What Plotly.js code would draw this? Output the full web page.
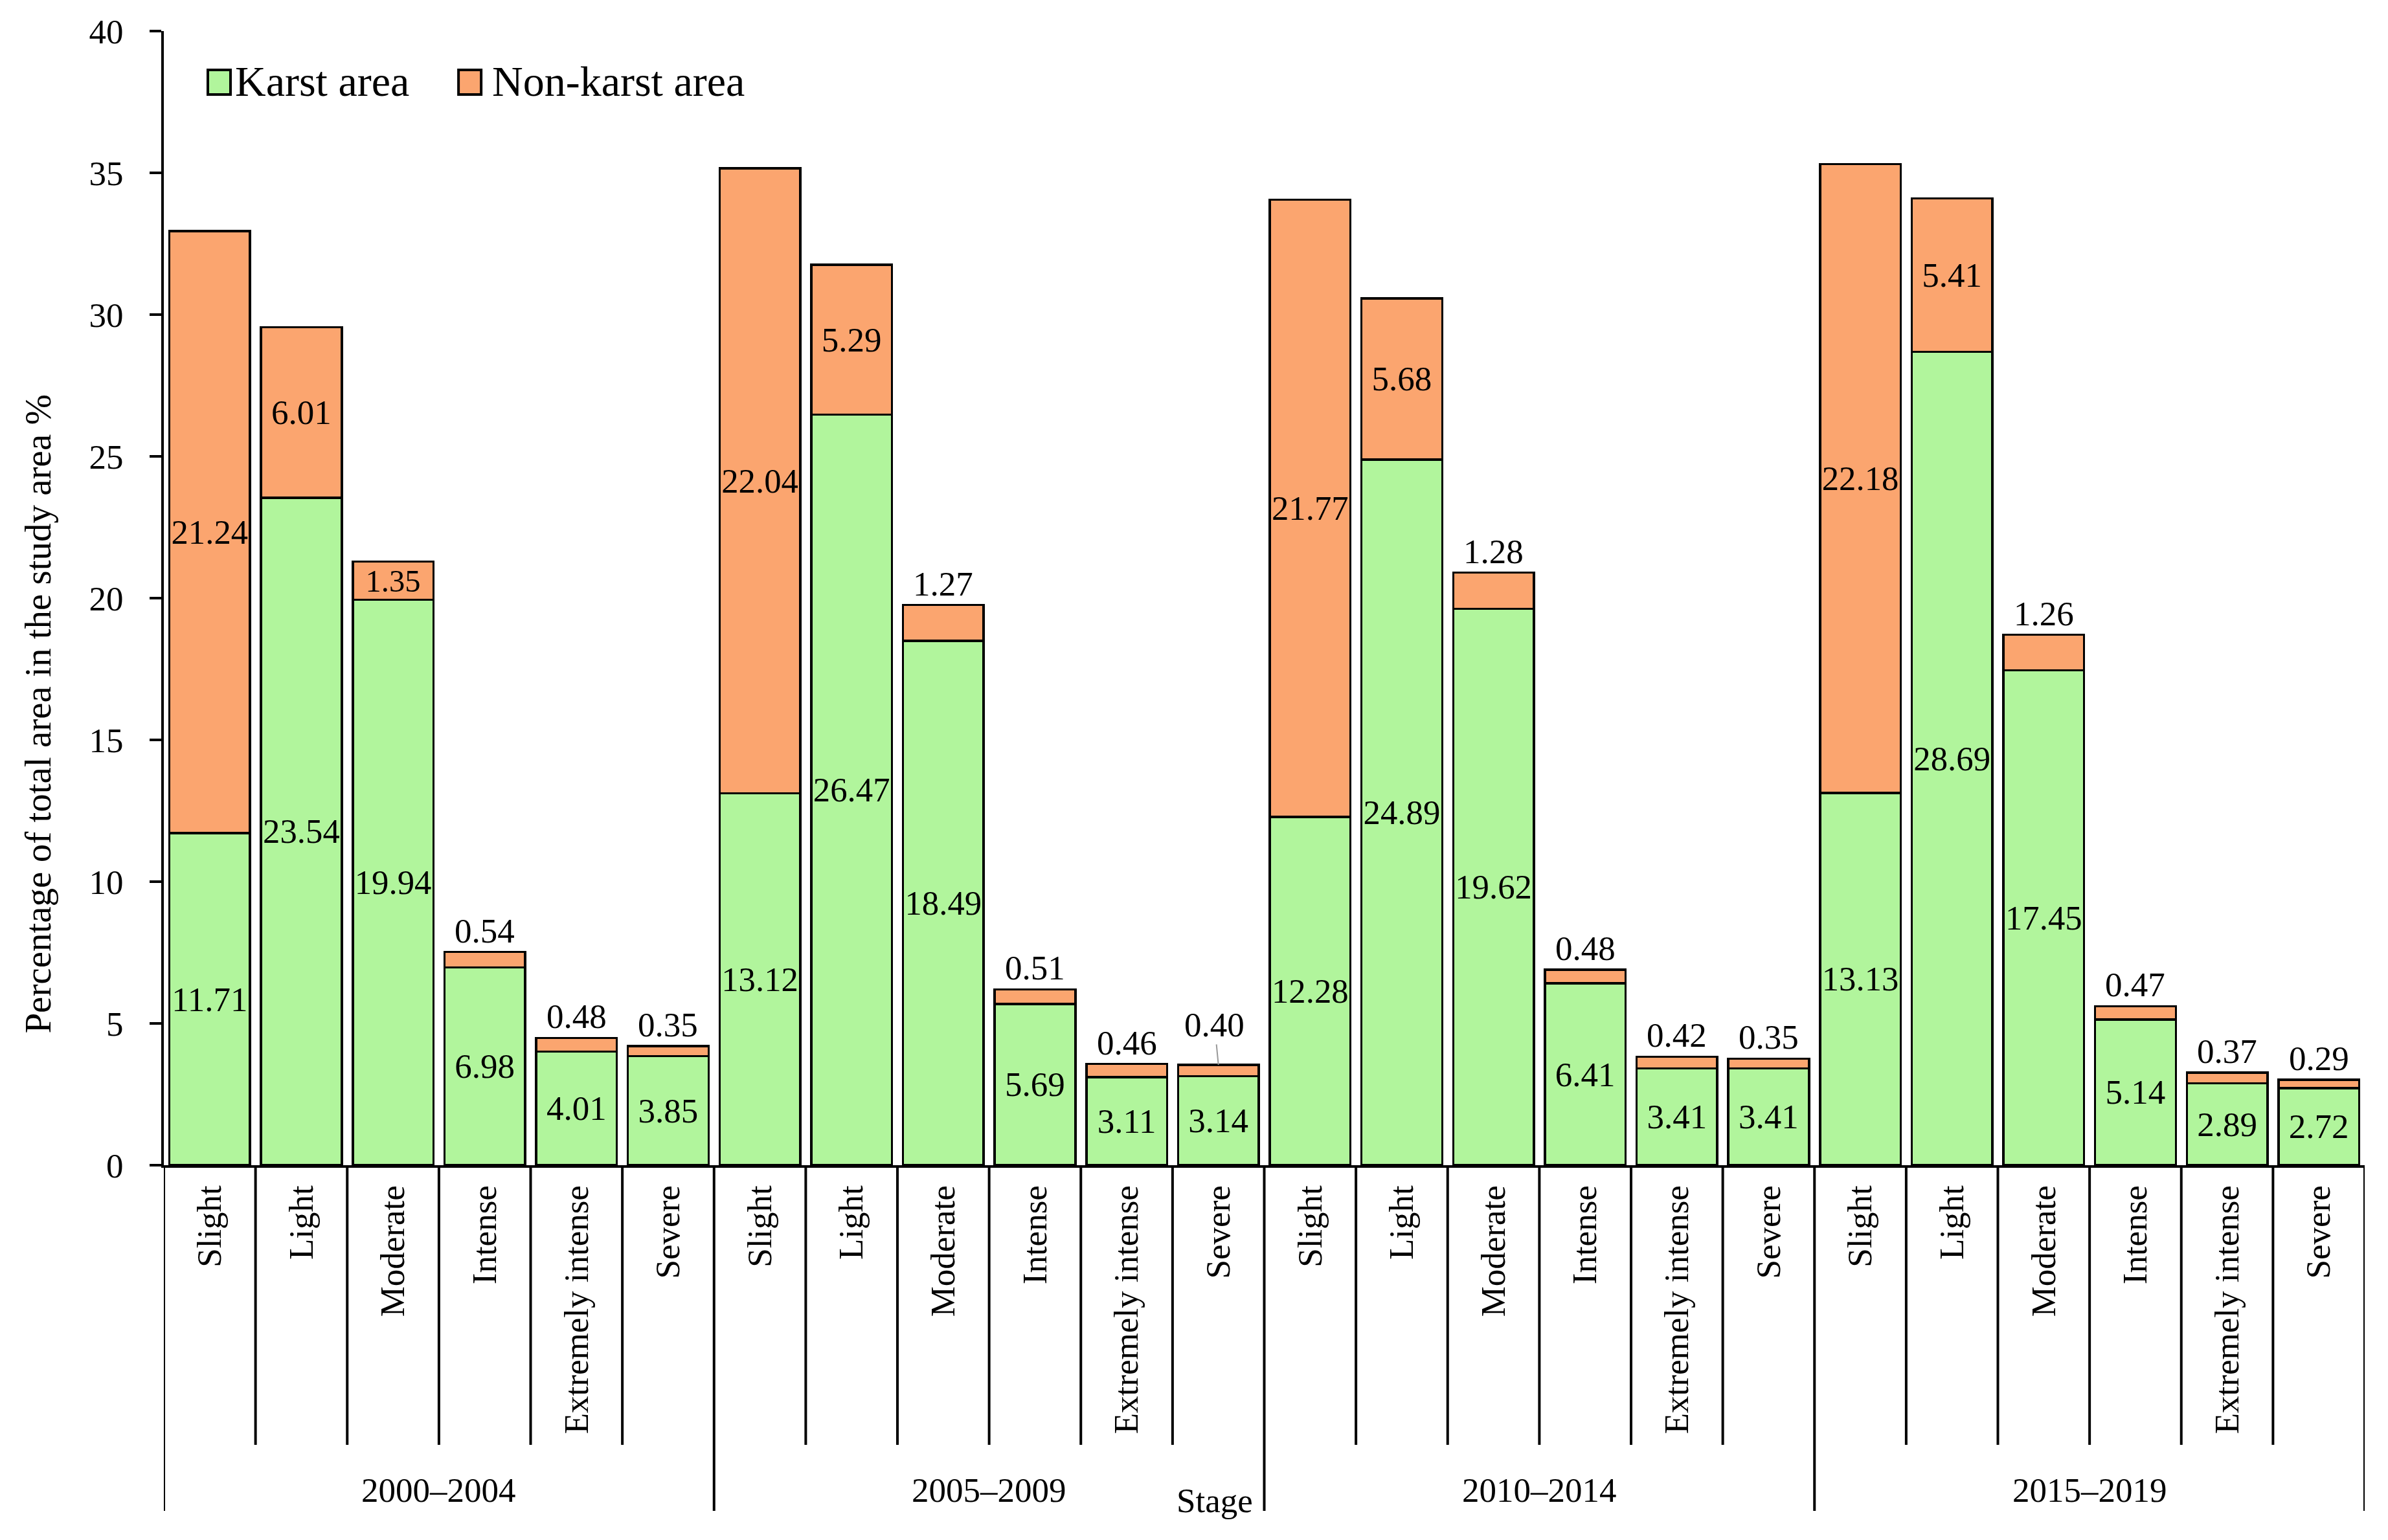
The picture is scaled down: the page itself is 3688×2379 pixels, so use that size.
<!DOCTYPE html>
<html>
<head>
<meta charset="utf-8">
<script src="https://cdn.plot.ly/plotly-3.0.1.min.js"></script>
<style>
  html, body { margin: 0; padding: 0; background: #fff; }
  #graph { width: 3688px; height: 2379px; }
</style>
</head>
<body>
<div id="graph"></div>
<script>
/* ----------------Data---------------- */

var stages = ['2000–2004', '2005–2009', '2010–2014', '2015–2019'];
var grades = ['Slight', 'Light', 'Moderate', 'Intense', 'Extremely intense', 'Severe'];
var seriesNames = ['Karst area', 'Non-karst area'];

// karst area share per stage, one value per grade
var karst2000 = [11.71, 23.54, 19.94, 6.98, 4.01, 3.85];
var karst2005 = [13.12, 26.47, 18.49, 5.69, 3.11, 3.14];
var karst2010 = [12.28, 24.89, 19.62, 6.41, 3.41, 3.41];
var karst2015 = [13.13, 28.69, 17.45, 5.14, 2.89, 2.72];

// non-karst area share per stage
var nonKarst2000 = [21.24, 6.01, 1.35, 0.54, 0.48, 0.35];
var nonKarst2005 = [22.04, 5.29, 1.27, 0.51, 0.46, 0.40];
var nonKarst2010 = [21.77, 5.68, 1.28, 0.48, 0.42, 0.35];
var nonKarst2015 = [22.18, 5.41, 1.26, 0.47, 0.37, 0.29];

var yTicks = [0, 5, 10, 15, 20, 25, 30, 35, 40];

/* ----------------Build traces---------------- */

var karst = [].concat(karst2000, karst2005, karst2010, karst2015);
var nonKarst = [].concat(nonKarst2000, nonKarst2005, nonKarst2010, nonKarst2015);

var FONT = 'Liberation Serif, Times New Roman, serif';
var FS = 53;
var COLORS = ['#b1f59c', '#fba56f'];
var insideMin = 1.3;          // smaller non-karst segments get their label above the bar
var leaderLabels = [[1, 5]];  // [stage, grade] labels lifted with a thin leader line

var xPos = [], tickText = [];
stages.forEach(function(s, si) {
    grades.forEach(function(g, gi) {
        xPos.push(si*grades.length + gi);
        tickText.push(g);
    });
});

function barTrace(name, values, color, labelFilter) {
    return {
        type: 'bar',
        name: name,
        x: xPos,
        y: values,
        text: values.map(function(v) { return labelFilter(v) ? v.toFixed(2) : ''; }),
        textposition: 'inside',
        insidetextanchor: 'middle',
        textangle: 0,
        insidetextfont: {family: FONT, size: FS, color: '#000'},
        marker: {color: color, line: {color: '#000', width: 3.5}},
        showlegend: false,
        hoverinfo: 'skip'
    };
}

var karstTrace = barTrace(seriesNames[0], karst, COLORS[0], function() { return true; });
var nonKarstTrace = barTrace(seriesNames[1], nonKarst, COLORS[1], function(v) { return v >= insideMin; });

/* ----------------Annotations---------------- */

var annotations = [];

// small non-karst values sit above their stacked bar
nonKarst.forEach(function(v, i) {
    if (v >= insideMin) return;
    var si = Math.floor(i / grades.length), gi = i % grades.length;
    var lifted = leaderLabels.some(function(p) { return p[0] === si && p[1] === gi; });
    var a = {
        x: xPos[i], y: karst[i] + v, xref: 'x', yref: 'y',
        text: v.toFixed(2),
        font: {family: FONT, size: FS, color: '#000'}
    };
    if (lifted) {
        a.showarrow = true;
        a.arrowhead = 0;
        a.arrowwidth = 2;
        a.arrowcolor = '#999';
        a.ax = -6;
        a.ay = -62;
        a.standoff = 0;
    } else {
        a.showarrow = false;
        a.yanchor = 'bottom';
        a.yshift = 2;
    }
    annotations.push(a);
});

// stage labels under each group
stages.forEach(function(s, si) {
    annotations.push({
        x: si*grades.length + (grades.length - 1)/2, y: -0.2865,
        xref: 'x', yref: 'paper', yanchor: 'middle',
        text: s, showarrow: false,
        font: {family: FONT, size: FS, color: '#000'}
    });
});

annotations.push({
    x: grades.length*2 - 0.61, y: -0.2957, xref: 'x', yref: 'paper',
    xanchor: 'right', yanchor: 'middle',
    text: 'Stage', showarrow: false,
    font: {family: FONT, size: FS, color: '#000'}
});

annotations.push({
    x: -0.0571, y: 0.398, xref: 'paper', yref: 'paper',
    xanchor: 'center', yanchor: 'middle', textangle: -90,
    text: 'Percentage of total area in the study area %', showarrow: false,
    font: {family: FONT, size: 57, color: '#000'}
});

/* ----------------Divider lines under the axis---------------- */

var shapes = [];
for (var k = 0; k <= xPos.length; k++) {
    var outer = (k % grades.length === 0);
    shapes.push({
        type: 'line', xref: 'x', yref: 'paper',
        x0: k - 0.5, x1: k - 0.5,
        y0: 0, y1: outer ? -0.3048 : -0.2466,
        line: {color: '#000', width: 4}
    });
}

/* ----------------Legend (drawn by hand so the swatches are large)---------------- */

var legendSwatchX = [0.0200, 0.1339];
var legendTextX = [0.0318, 0.1487];
seriesNames.forEach(function(name, i) {
    shapes.push({
        type: 'rect', xref: 'paper', yref: 'paper',
        x0: legendSwatchX[i], x1: legendSwatchX[i] + 0.0103,
        y0: 0.9441, y1: 0.9658,
        fillcolor: COLORS[i],
        line: {color: '#000', width: 4}
    });
    annotations.push({
        x: legendTextX[i], y: 0.9555, xref: 'paper', yref: 'paper',
        xanchor: 'left', yanchor: 'middle',
        text: name, showarrow: false,
        font: {family: FONT, size: 66, color: '#000'}
    });
});

/* ----------------Layout---------------- */

var layout = {
    width: 3688,
    height: 2379,
    paper_bgcolor: '#fff',
    plot_bgcolor: '#fff',
    barmode: 'stack',
    bargap: 0.12,
    margin: {l: 253, r: 36, t: 48, b: 579},
    font: {family: FONT, size: FS, color: '#000'},
    showlegend: false,
    xaxis: {
        range: [-0.5, xPos.length - 0.5],
        autorange: false,
        tickmode: 'array',
        tickvals: xPos,
        ticktext: tickText,
        tickangle: -90,
        ticks: '',
        ticklabelstandoff: 6,
        showgrid: false,
        zeroline: false,
        showline: true,
        linecolor: '#000',
        linewidth: 4,
        tickfont: {family: FONT, size: FS, color: '#000'}
    },
    yaxis: {
        range: [0, 40],
        autorange: false,
        tickmode: 'array',
        tickvals: yTicks,
        ticks: 'outside',
        ticklen: 18,
        tickwidth: 4,
        tickcolor: '#000',
        ticklabelstandoff: 30,
        showgrid: false,
        zeroline: false,
        showline: true,
        linecolor: '#000',
        linewidth: 4,
        tickfont: {family: FONT, size: FS, color: '#000'}
    },
    annotations: annotations,
    shapes: shapes
};

var graph = document.getElementById('graph');
Plotly.newPlot(graph, [karstTrace, nonKarstTrace], layout, {staticPlot: true});
</script>
</body>
</html>
